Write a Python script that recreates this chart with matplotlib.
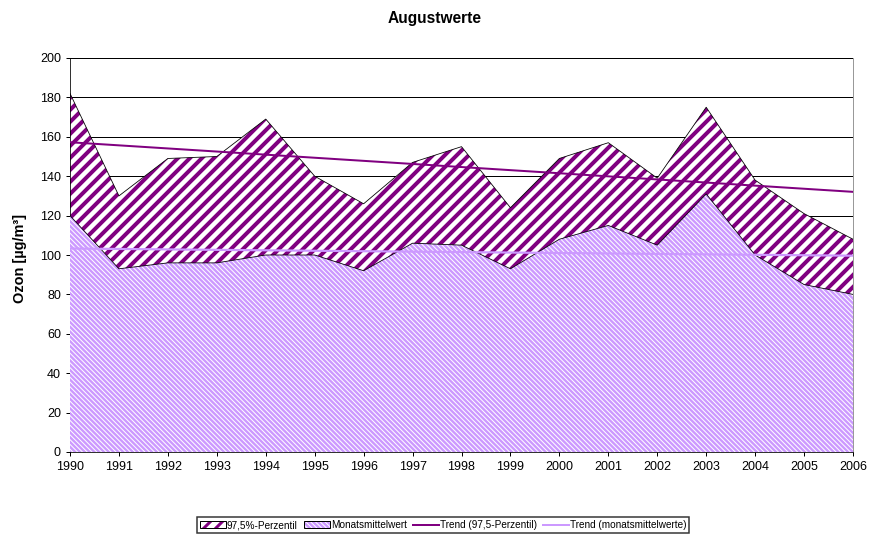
import matplotlib.pyplot as plt
import numpy as np
from matplotlib.patches import Patch
from matplotlib.lines import Line2D

plt.rcParams['font.family'] = ['Liberation Sans', 'DejaVu Sans']

years = np.arange(1990, 2007)
perzentil = [182, 130, 149, 150, 169, 140, 126, 147, 155, 124, 149, 157, 139, 175, 138, 121, 108]
mittel = [120, 93, 96, 96, 100, 100, 92, 106, 105, 93, 108, 115, 105, 131, 100, 85, 80]

purple = '#800080'
lilac = '#CC99FF'
hatch_p = '//'
hatch_m = '\\' * 5

# linear trends as in the spreadsheet
trend_p = np.polyval(np.polyfit(years, perzentil, 1), years)
trend_m = np.polyval(np.polyfit(years, mittel, 1), years)

dpi = 72
fig = plt.figure(figsize=(870 / dpi, 539 / dpi), dpi=dpi)
ax = fig.add_axes([70 / 870, 87 / 539, 783 / 870, 394 / 539])

ax.set_axisbelow(True)
ax.yaxis.grid(True, color='black', lw=1)

a1 = ax.fill_between(years, 0, perzentil, facecolor='white', edgecolor=purple,
                     hatch=hatch_p, lw=0, zorder=2)
a1.set_hatch_linewidth(4)
ax.plot(years, perzentil, color='black', lw=0.8, zorder=2.1)

a2 = ax.fill_between(years, 0, mittel, facecolor=lilac, edgecolor='white',
                     hatch=hatch_m, lw=0, zorder=3)
a2.set_hatch_linewidth(1.0)
ax.plot(years, mittel, color='black', lw=0.8, zorder=3.1)
ax.plot([years[-1], years[-1]], [mittel[-1], perzentil[-1]], color='black', lw=0.8, zorder=3.1)

ax.plot(years, trend_p, color=purple, lw=2, zorder=4)
ax.plot(years, trend_m, color=lilac, lw=2.2, zorder=4)

ax.set_xlim(1990, 2006)
ax.set_ylim(0, 200)
ax.set_xticks(years)
ax.set_yticks(np.arange(0, 201, 20))
ax.tick_params(labelsize=12.5, length=4, width=1, color='black', direction='out', pad=5)
ax.spines['top'].set_visible(False)
ax.spines['right'].set_color('#808080')

fig.text(0.5, 1 - 18 / 539, 'Augustwerte', ha='center', va='center', fontsize=15.5, fontweight='bold')
fig.text(20 / 870, 1 - 258 / 539, 'Ozon [µg/m³]', rotation=90, ha='center', va='center',
         fontsize=14.5, fontweight='bold')

h1 = (Patch(facecolor='white', edgecolor=purple, hatch=hatch_p, lw=0),
      Patch(facecolor='none', edgecolor='black', lw=1))
h2 = (Patch(facecolor=lilac, edgecolor='white', hatch=hatch_m, lw=0),
      Patch(facecolor='none', edgecolor='black', lw=1))
h3 = Line2D([], [], color=purple, lw=2)
h4 = Line2D([], [], color=lilac, lw=2)
leg = fig.legend([h1, h2, h3, h4],
                 ['97,5%-Perzentil', 'Monatsmittelwert', 'Trend (97,5-Perzentil)',
                  'Trend (monatsmittelwerte)'],
                 loc='center', bbox_to_anchor=(443 / 870, 1 - 525 / 539), ncol=4,
                 fontsize=10, frameon=True, fancybox=False, edgecolor='black',
                 handlelength=2.6, handleheight=0.7, handletextpad=0.1,
                 columnspacing=0.6, borderpad=0.3, borderaxespad=0)
leg.get_frame().set_linewidth(1.5)
for p in leg.findobj(Patch):
    if p.get_hatch() == hatch_p:
        p.set_hatch_linewidth(3)
    elif p.get_hatch() == hatch_m:
        p.set_hatch_linewidth(1.0)

fig.savefig('out.png', dpi=dpi)
